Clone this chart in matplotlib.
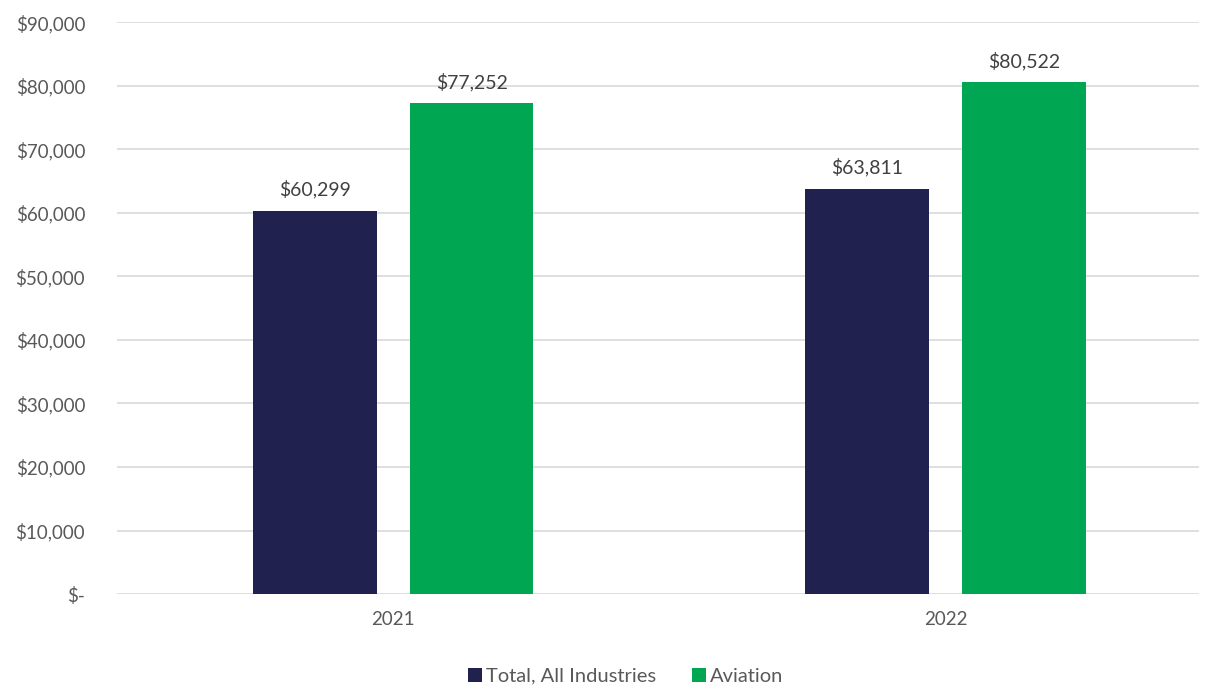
import numpy as np
import matplotlib.pyplot as plt

years = ["2021", "2022"]
total_all = [60299, 63811]
aviation = [77252, 80522]
yticks = [0, 10000, 20000, 30000, 40000, 50000, 60000, 70000, 80000, 90000]

plt.rcParams['font.family'] = ['Lato', 'DejaVu Sans']
gray = '#595959'

fig = plt.figure(figsize=(12.14, 6.9), dpi=100)
ax = fig.add_axes([0.0964, 0.139, 0.8916, 0.829])

x = np.arange(len(years))
w = 0.224
b1 = ax.bar(x - 0.142, total_all, w, color='#20214F', label='Total, All Industries', zorder=3)
b2 = ax.bar(x + 0.142, aviation, w, color='#00A651', label='Aviation', zorder=3)

for bars, vals in ((b1, total_all), (b2, aviation)):
    for r, v in zip(bars, vals):
        ax.text(r.get_x() + r.get_width() / 2, v + 1900, f"${v:,}",
                ha='center', va='bottom', fontsize=14, color='#404040')

ax.set_xlim(-0.5, 1.46)
ax.set_ylim(0, 90000)
ax.set_yticks(yticks)
ax.set_yticklabels(["$-"] + [f"${v:,}" for v in yticks[1:]])
ax.set_xticks(x)
ax.set_xticklabels(years)
ax.tick_params(length=0, labelsize=13.5, colors=gray)
ax.tick_params(axis='x', pad=12)
ax.tick_params(axis='y', pad=23)
for lbl in ax.get_yticklabels():
    lbl.set_horizontalalignment('right')
ax.yaxis.grid(True, color='#D9D9D9', lw=1.2, zorder=0)
for s in ax.spines.values():
    s.set_visible(False)

ax.legend(loc='lower center', bbox_to_anchor=(0.47, -0.19), ncol=2, frameon=False,
          fontsize=14.5, handlelength=0.7, handleheight=0.7, handletextpad=0.2,
          columnspacing=1.8, labelcolor=gray)

fig.savefig('out.png', dpi=100)
